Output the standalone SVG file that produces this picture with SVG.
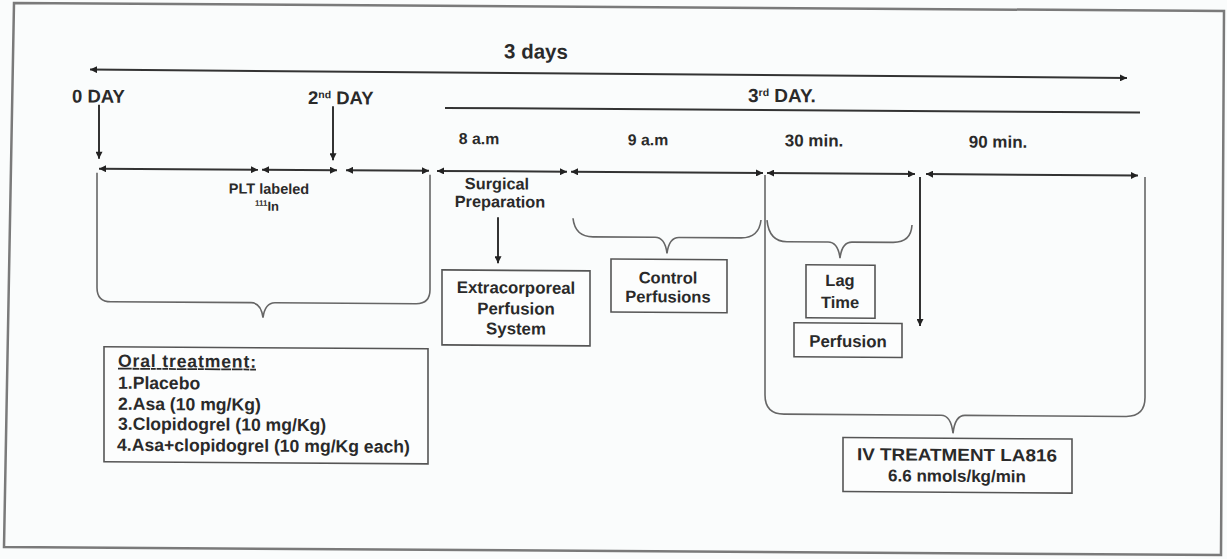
<svg xmlns="http://www.w3.org/2000/svg" width="1227" height="559" viewBox="0 0 1227 559">
<style>
text{font-family:"Liberation Sans",Arial,sans-serif;font-weight:bold;fill:#2a2a2a}
.c{text-anchor:middle}
.ln{stroke:#333;stroke-width:2;fill:none}
.br{stroke:#666;stroke-width:1.6;fill:none}
.bx{stroke:#555;stroke-width:1.6;fill:#fcfdfd}
.sup{font-size:10.5px}
.lst{font-size:17.6px}
</style>
<defs>
<marker id="ah" viewBox="0 0 10 10" refX="10" refY="5" markerWidth="9" markerHeight="7" orient="auto-start-reverse" markerUnits="userSpaceOnUse">
<path d="M0,0 L10,5 L0,10 z" fill="#222"/>
</marker>
</defs>
<rect width="1227" height="559" fill="#fafcfc"/>
<polygon points="14,3 1224,11 1221,555 4,547" fill="none" stroke="#7a7a7a" stroke-width="2.5"/>
<g transform="skewY(0.378)">
<g id="connectors">
<line class="ln" x1="90" y1="69" x2="1127" y2="70.5" stroke-width="2.6" marker-start="url(#ah)" marker-end="url(#ah)"/>
<line class="ln" x1="445" y1="105" x2="1140" y2="105" stroke="#555" stroke-width="1.5"/>
<line class="ln" x1="99" y1="104" x2="99" y2="158" marker-end="url(#ah)"/>
<line class="ln" x1="333" y1="104" x2="333" y2="158" marker-end="url(#ah)"/>
<line class="ln" x1="99" y1="168" x2="258" y2="168" marker-start="url(#ah)" marker-end="url(#ah)"/>
<line class="ln" x1="262" y1="168" x2="337" y2="168" marker-start="url(#ah)" marker-end="url(#ah)"/>
<line class="ln" x1="346" y1="168" x2="429" y2="168" marker-start="url(#ah)" marker-end="url(#ah)"/>
<line class="ln" x1="437" y1="168" x2="567" y2="168" marker-start="url(#ah)" marker-end="url(#ah)"/>
<line class="ln" x1="571" y1="168" x2="763" y2="168" marker-start="url(#ah)" marker-end="url(#ah)"/>
<line class="ln" x1="767" y1="168" x2="915" y2="168" marker-start="url(#ah)" marker-end="url(#ah)"/>
<line class="ln" x1="926" y1="168" x2="1138" y2="168" marker-start="url(#ah)" marker-end="url(#ah)"/>
<line class="ln" x1="498" y1="214" x2="498" y2="260" stroke-width="1.6" marker-end="url(#ah)"/>
<line class="ln" x1="920" y1="171" x2="920" y2="320" stroke-width="1.6" marker-end="url(#ah)"/>
<path class="br" d="M97,172 V287 Q97,301 111,301 H251 Q261,301 263,316 Q265,301 275,301 H416 Q430,301 430,287 V172"/>
<path class="br" d="M573,214.5 Q575,233 593,233 H655 Q665,233 667,249 Q669,233 679,233 H741 Q759,233 761,215"/>
<path class="br" d="M767,215 Q769,236.5 787,236.5 H828 Q838,236.5 840,252.5 Q842,236.5 852,236.5 H893 Q911,236.5 912,219"/>
<path class="br" d="M765,170 V390 Q765,409 784,409 H941 Q951,409 953,427 Q955,409 965,409 H1126 Q1145,409 1145,390 V169.5"/>
</g>
<g id="title"><text class="c" x="536" y="55" font-size="20.5">3 days</text></g>
<g id="day0"><text x="72" y="102" font-size="18.5">0 DAY</text></g>
<g id="day2"><text x="308" y="102" font-size="18.5">2<tspan class="sup" dy="-6">nd</tspan><tspan dy="6"> DAY</tspan></text></g>
<g id="day3"><text x="748" y="97" font-size="19">3<tspan class="sup" dy="-6">rd</tspan><tspan dy="6"> DAY.</tspan></text></g>
<g id="t8"><text class="c" x="479" y="141" font-size="15.8">8 a.m</text></g>
<g id="t9"><text class="c" x="648" y="141" font-size="15.8">9 a.m</text></g>
<g id="t30"><text class="c" x="814" y="141" font-size="17">30 min.</text></g>
<g id="t90"><text class="c" x="998" y="141" font-size="17">90 min.</text></g>
<g id="plt"><text class="c" x="269" y="192" font-size="14.5">PLT labeled</text><text class="c" x="267" y="209" font-size="13"><tspan font-size="8" dy="-5">111</tspan><tspan dy="5">In</tspan></text></g>
<g id="surgical"><text class="c" x="497" y="186" font-size="16.3">Surgical</text><text class="c" x="500" y="204" font-size="16.3">Preparation</text></g>
<g id="extracorporeal"><rect class="bx" x="442" y="267" width="148" height="75"/><text class="c" x="516" y="290" font-size="16.8">Extracorporeal</text><text class="c" x="516" y="311" font-size="16.8">Perfusion</text><text class="c" x="516" y="331" font-size="16.8">System</text></g>
<g id="control"><rect class="bx" x="611" y="255" width="116" height="53"/><text class="c" x="668" y="279" font-size="16.5">Control</text><text class="c" x="668" y="298" font-size="16.5">Perfusions</text></g>
<g id="lagtime"><rect class="bx" x="806" y="259.5" width="69" height="53"/><text class="c" x="840" y="280.5" font-size="16.5">Lag</text><text class="c" x="840" y="302.5" font-size="16.5">Time</text></g>
<g id="perfusion"><rect class="bx" x="794" y="317.5" width="108" height="34"/><text class="c" x="848" y="341.5" font-size="16.8">Perfusion</text></g>
<g id="oral"><rect class="bx" x="104" y="346" width="324" height="115"/>
<text class="lst" x="118" y="366" text-decoration="underline" textLength="138" lengthAdjust="spacing">Oral treatment:</text>
<text class="lst" x="118" y="388">1.Placebo</text>
<text class="lst" x="118" y="409">2.Asa (10 mg/Kg)</text>
<text class="lst" x="118" y="429">3.Clopidogrel (10 mg/Kg)</text>
<text class="lst" x="117" y="450">4.Asa+clopidogrel (10 mg/Kg each)</text></g>
<g id="iv"><rect class="bx" x="843" y="432" width="229" height="54"/><text class="c" x="957" y="454.5" font-size="17.3" textLength="200" lengthAdjust="spacingAndGlyphs">IV TREATMENT LA816</text><text class="c" x="957" y="475.5" font-size="17">6.6 nmols/kg/min</text></g>
</g>
</svg>
